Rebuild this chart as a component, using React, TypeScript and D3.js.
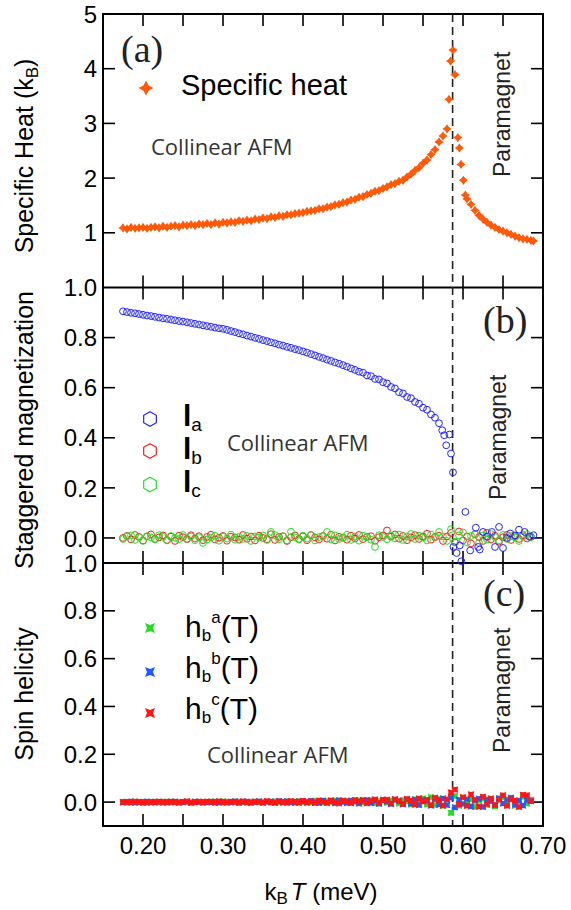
import React from 'react';
import * as d3 from 'd3';

// temperature grid (meV)
const temps = [
  0.175, 0.180, 0.185, 0.190, 0.195, 0.200, 0.205, 0.210, 0.215, 0.220,
  0.225, 0.230, 0.235, 0.240, 0.245, 0.250, 0.255, 0.260, 0.265, 0.270,
  0.275, 0.280, 0.285, 0.290, 0.295, 0.300, 0.305, 0.310, 0.315, 0.320,
  0.325, 0.330, 0.335, 0.340, 0.345, 0.350, 0.355, 0.360, 0.365, 0.370,
  0.375, 0.380, 0.385, 0.390, 0.395, 0.400, 0.405, 0.410, 0.415, 0.420,
  0.425, 0.430, 0.435, 0.440, 0.445, 0.450, 0.455, 0.460, 0.465, 0.470,
  0.475, 0.480, 0.485, 0.490, 0.495, 0.500, 0.505, 0.510, 0.515, 0.520,
  0.525, 0.530, 0.535, 0.540, 0.545, 0.550, 0.555, 0.560, 0.565, 0.570,
  0.575, 0.580, 0.585, 0.590, 0.595, 0.600, 0.605, 0.610, 0.615, 0.620,
  0.625, 0.630, 0.635, 0.640, 0.645, 0.650, 0.655, 0.660, 0.665, 0.670,
  0.675, 0.680, 0.685,
];

// (a) specific heat (k_B) on the grid, null where the peak points take over
const heat = [
  1.09, 1.07, 1.10, 1.08, 1.09, 1.10, 1.08, 1.10, 1.11, 1.09,
  1.12, 1.10, 1.12, 1.13, 1.11, 1.14, 1.13, 1.15, 1.13, 1.16,
  1.15, 1.17, 1.15, 1.18, 1.16, 1.19, 1.18, 1.20, 1.19, 1.22,
  1.21, 1.23, 1.22, 1.25, 1.24, 1.27, 1.26, 1.29, 1.28, 1.31,
  1.30, 1.33, 1.33, 1.35, 1.36, 1.37, 1.39, 1.40, 1.41, 1.44,
  1.44, 1.47, 1.48, 1.51, 1.52, 1.55, 1.56, 1.60, 1.61, 1.65,
  1.66, 1.70, 1.72, 1.76, 1.77, 1.81, 1.84, 1.88, 1.90, 1.94,
  1.96, 2.02, 2.07, 2.14, 2.19, 2.27, 2.33, 2.43, 2.52, 2.66,
  2.77, 2.90, null, null, null, null, 1.62, 1.52, 1.41, 1.32,
  1.25, 1.19, 1.14, 1.10, 1.06, 1.03, 1.00, 0.97, 0.94, 0.91,
  0.89, 0.88, 0.86,
];
const heatPeakT = [0.5825, 0.5845, 0.5875, 0.590, 0.5935, 0.5955, 0.5975, 0.6005, 0.603, 0.688];
const heatPeakC = [3.44, 4.14, 4.34, 3.89, 2.74, 2.55, 2.25, 1.96, 1.69, 0.85];

// (b) staggered magnetization
const lA = [
  0.905, 0.902, 0.899, 0.897, 0.894, 0.891, 0.888, 0.886, 0.883, 0.880,
  0.877, 0.875, 0.872, 0.869, 0.866, 0.864, 0.861, 0.858, 0.855, 0.852,
  0.849, 0.846, 0.843, 0.840, 0.837, 0.835, 0.831, 0.826, 0.822, 0.817,
  0.813, 0.808, 0.804, 0.799, 0.795, 0.790, 0.786, 0.781, 0.777, 0.772,
  0.768, 0.763, 0.759, 0.754, 0.750, 0.745, 0.740, 0.734, 0.729, 0.723,
  0.718, 0.712, 0.707, 0.701, 0.696, 0.690, 0.684, 0.677, 0.671, 0.664,
  0.660, 0.649, 0.646, 0.635, 0.633, 0.622, 0.617, 0.603, 0.597, 0.582,
  0.577, 0.563, 0.558, 0.543, 0.536, 0.520, 0.512, 0.493, 0.480, 0.458,
  null, null, null, null, null, null, null, null, null, null,
  null, null, null, null, null, null, null, null, null, null,
  null, null, null,
];
const lAExtraT = [
  0.574, 0.5765, 0.579, 0.583, 0.585, 0.5875, 0.588, 0.592, 0.596, 0.598,
  0.603, 0.609, 0.616, 0.619, 0.621, 0.625, 0.630, 0.636, 0.640, 0.645,
  0.650, 0.655, 0.659, 0.665, 0.670, 0.677, 0.683, 0.688,
];
const lAExtraV = [
  0.43, 0.41, 0.37, 0.413, 0.337, 0.262, -0.036, -0.06, -0.03, -0.093,
  0.104, -0.05, 0.041, -0.036, -0.046, 0.024, 0.005, 0.024, -0.036, 0.044,
  -0.04, 0.0, 0.018, 0.01, 0.033, 0.024, 0.005, 0.011,
];
const lB = [
  0.000, 0.008, -0.006, 0.012, 0.004, -0.010, 0.006, 0.014, -0.004, 0.002,
  0.010, -0.008, 0.005, -0.012, 0.009, 0.003, -0.005, 0.011, -0.002, 0.007,
  -0.009, 0.004, 0.013, -0.006, 0.001, 0.008, -0.011, 0.005, 0.002, -0.007,
  0.012, -0.003, 0.006, -0.010, 0.009, 0.000, -0.005, 0.015, -0.008, 0.004,
  0.007, -0.012, 0.003, 0.010, -0.004, 0.006, -0.009, 0.011, 0.002, -0.006,
  0.008, -0.003, 0.013, -0.010, 0.005, 0.001, -0.007, 0.009, -0.002, 0.012,
  -0.005, 0.004, 0.007, -0.011, 0.003, 0.010, 0.030, 0.005, 0.014, -0.003,
  0.008, -0.009, 0.002, 0.011, -0.004, 0.006, 0.017, -0.007, 0.003, 0.009,
  -0.012, 0.006, 0.020, -0.018, 0.026, -0.010, 0.006, -0.022, 0.015, 0.004,
  -0.012, 0.020, -0.006, 0.009, -0.015, 0.003, 0.012, -0.008, 0.007, -0.004,
  0.011, -0.002, 0.005,
];
const lC = [
  -0.004, 0.006, 0.010, -0.008, 0.003, -0.012, 0.007, 0.002, -0.006, 0.011,
  0.004, -0.010, 0.008, 0.001, -0.005, 0.012, -0.003, 0.006, -0.009, 0.003,
  -0.020, -0.006, 0.002, 0.009, -0.011, 0.005, -0.002, 0.013, -0.007, 0.004,
  -0.004, 0.008, -0.012, 0.006, 0.002, 0.010, -0.008, 0.024, 0.011, -0.005,
  0.006, -0.009, 0.025, 0.002, -0.006, 0.009, -0.003, 0.012, -0.010, 0.004,
  0.007, 0.024, -0.006, 0.010, -0.004, 0.002, 0.013, -0.008, 0.005, -0.011,
  0.009, 0.003, -0.007, -0.036, 0.011, 0.004, -0.005, 0.010, -0.002, 0.014,
  -0.008, 0.006, 0.016, -0.004, 0.009, 0.002, -0.010, 0.013, 0.005, 0.024,
  0.006, -0.012, 0.035, -0.015, 0.010, 0.022, -0.018, 0.008, 0.014, -0.020,
  0.010, -0.006, 0.015, 0.004, -0.010, 0.012, -0.004, 0.008, 0.002, -0.012,
  0.006, 0.015, 0.003,
];

// (c) spin helicity
const hA = [
  0.001, -0.002, 0.000, 0.002, -0.001, 0.001, -0.003, 0.000, 0.002, -0.001,
  0.000, 0.002, -0.002, 0.001, 0.000, -0.001, 0.002, -0.003, 0.001, 0.000,
  -0.002, 0.001, 0.002, -0.001, 0.000, 0.003, -0.002, 0.001, -0.001, 0.002,
  0.000, -0.003, 0.001, 0.002, -0.001, 0.000, 0.002, -0.002, 0.003, -0.001,
  0.001, 0.003, -0.002, 0.000, 0.004, -0.001, 0.002, -0.003, 0.005, 0.001,
  -0.002, 0.004, 0.000, 0.006, -0.003, 0.002, 0.005, -0.004, 0.003, 0.007,
  -0.002, 0.005, 0.008, -0.005, 0.004, 0.009, -0.003, 0.006, 0.010, -0.006,
  0.008, 0.003, -0.010, 0.012, -0.004, 0.015, -0.009, 0.020, -0.012, 0.014,
  -0.015, 0.010, -0.045, 0.025, -0.015, 0.018, -0.010, 0.012, -0.020, 0.008,
  0.015, -0.012, 0.006, -0.018, 0.010, 0.020, -0.008, 0.012, -0.015, 0.005,
  0.022, -0.006, 0.010,
];
const hB = [
  -0.001, 0.001, 0.002, -0.002, 0.000, 0.001, 0.002, -0.001, 0.000, 0.001,
  -0.002, 0.000, 0.001, 0.002, -0.001, 0.000, 0.001, -0.002, 0.002, 0.000,
  0.001, -0.001, 0.000, 0.002, -0.002, 0.001, 0.000, -0.001, 0.003, -0.002,
  0.001, 0.002, -0.002, 0.000, 0.003, -0.001, 0.001, 0.002, -0.003, 0.004,
  -0.002, 0.003, 0.000, -0.003, 0.002, 0.004, -0.002, 0.005, -0.001, -0.004,
  0.006, -0.002, 0.003, -0.005, 0.007, 0.001, -0.004, 0.006, 0.002, -0.006,
  0.005, 0.008, -0.004, 0.006, -0.007, 0.010, 0.002, -0.008, 0.009, 0.004,
  -0.009, 0.012, -0.006, 0.010, -0.012, 0.008, 0.006, -0.014, 0.012, -0.010,
  0.015, -0.012, 0.018, -0.022, 0.010, -0.008, 0.012, -0.018, 0.006, 0.014,
  -0.020, 0.010, 0.004, -0.012, 0.016, -0.006, 0.010, 0.018, -0.010, 0.006,
  -0.014, 0.008, 0.004,
];
const hC = [
  0.000, 0.001, -0.001, 0.002, 0.001, -0.002, 0.000, 0.001, -0.001, 0.002,
  0.001, -0.001, 0.002, 0.000, -0.002, 0.001, 0.003, -0.001, 0.000, 0.002,
  -0.001, 0.002, 0.001, -0.002, 0.003, 0.000, -0.001, 0.002, 0.001, -0.002,
  0.003, 0.000, -0.002, 0.002, 0.001, -0.003, 0.004, 0.000, -0.002, 0.003,
  0.001, -0.002, 0.004, 0.002, -0.003, 0.005, 0.000, 0.003, -0.004, 0.006,
  0.002, -0.003, 0.007, 0.001, -0.005, 0.006, 0.003, -0.004, 0.008, 0.002,
  0.009, -0.005, 0.004, 0.011, -0.003, 0.008, 0.010, -0.006, 0.012, 0.004,
  -0.008, 0.013, 0.006, -0.010, 0.015, 0.002, 0.010, -0.012, 0.018, 0.008,
  -0.014, 0.012, 0.040, 0.052, -0.010, 0.020, -0.015, 0.032, 0.010, -0.018,
  0.022, -0.008, 0.015, -0.012, 0.010, 0.028, -0.015, 0.012, 0.006, -0.020,
  0.030, 0.028, 0.004,
];

const xTicks = [0.2, 0.25, 0.3, 0.35, 0.4, 0.45, 0.5, 0.55, 0.6, 0.65];
const xLabels = [0.2, 0.3, 0.4, 0.5, 0.6, 0.7];
const heatTicks = [1, 2, 3, 4];
const heatLabels = [1, 2, 3, 4, 5];
const magTicks = [0, 0.2, 0.4, 0.6, 0.8];
const magLabels = [0, 0.2, 0.4, 0.6, 0.8, 1.0];
const tc = 0.587;

const ORANGE = '#ff5a0a';
const BLUE = '#2222ff';
const RED = '#ff1a1a';
const GREEN = '#22e022';
const H_GREEN = '#22dd22';
const H_BLUE = '#1f5cff';
const H_RED = '#ff1515';

const SANS = '"Liberation Sans", Arial, Helvetica, sans-serif';
const MYRIAD = '"Open Sans", "Noto Sans", sans-serif';
const SERIF = '"Liberation Serif", "Times New Roman", serif';

const x = d3.scaleLinear().domain([0.15, 0.7]).range([103, 543]);
const yA = d3.scaleLinear().domain([0, 5]).range([287.5, 14]);
const yB = d3.scaleLinear().domain([-0.1, 1.0]).range([563, 287.5]);
const yC = d3.scaleLinear().domain([-0.1, 1.0]).range([826, 563]);

const zip = (ts: number[], vs: (number | null)[]) =>
  ts.map((t, i) => [t, vs[i]] as [number, number | null]).filter((d) => d[1] != null) as [number, number][];

// four-point star
const star = (s: number, f = 0.3) => {
  const k = s * f;
  return `M0,${-s}L${k},${-k}L${s},0L${k},${k}L0,${s}L${-k},${k}L${-s},0L${-k},${-k}Z`;
};
// square with pinched sides
const pinched = (s: number, f = 0.6) => {
  const k = s * f;
  return `M${-s},${-s}L0,${-k}L${s},${-s}L${k},0L${s},${s}L0,${k}L${-s},${s}L${-k},0Z`;
};
const hexagon = (r: number) =>
  d3.range(6).map((i) => {
    const a = (Math.PI / 3) * i - Math.PI / 2;
    return `${i ? 'L' : 'M'}${r * Math.cos(a)},${r * Math.sin(a)}`;
  }).join('') + 'Z';

const fmt1 = d3.format('.1f');
const fmt2 = d3.format('.2f');

export default function App() {
  const heatPts = [...zip(temps, heat), ...zip(heatPeakT, heatPeakC)];
  const laPts = [...zip(temps, lA), ...zip(lAExtraT, lAExtraV)];
  const L = 103, R = 543;
  const edges = [
    { y: 14, dir: 1 },
    { y: 287.5, dir: -1 },
    { y: 287.5, dir: 1 },
    { y: 563, dir: -1 },
    { y: 563, dir: 1 },
    { y: 826, dir: -1 },
  ];
  const yTickMarks = [
    ...heatTicks.map((v) => yA(v)),
    ...magTicks.map((v) => yB(v)),
    ...magTicks.map((v) => yC(v)),
  ];
  const tickLabel = { fontFamily: SANS, fontSize: 24, fill: '#000' };

  return (
    <div style={{ position: 'absolute', left: 0, top: 0, background: '#fff' }}>
      <svg width={571} height={910} style={{ display: 'block' }}>
        <rect width={571} height={910} fill="#fff" />

        {/* frame */}
        <g stroke="#000" strokeWidth={2} fill="none">
          <rect x={L} y={14} width={R - L} height={826 - 14} />
          <line x1={L} x2={R} y1={287.5} y2={287.5} />
          <line x1={L} x2={R} y1={563} y2={563} />
        </g>

        {/* ticks */}
        <g stroke="#000" strokeWidth={1.6}>
          {edges.map((e, i) =>
            xTicks.map((t) => (
              <line key={`x${i}-${t}`} x1={x(t)} x2={x(t)} y1={e.y} y2={e.y + 12 * e.dir} />
            ))
          )}
          {yTickMarks.map((yy, i) => (
            <g key={`y${i}`}>
              <line x1={L} x2={L + 12} y1={yy} y2={yy} />
              <line x1={R} x2={R - 12} y1={yy} y2={yy} />
            </g>
          ))}
        </g>

        {/* tick labels */}
        <g {...tickLabel} textAnchor="end">
          {heatLabels.map((v) => (
            <text key={`ha${v}`} x={97} y={yA(v)} dy="0.36em">{v}</text>
          ))}
          {magLabels.map((v) => (
            <text key={`mb${v}`} x={97} y={yB(v)} dy="0.36em">{fmt1(v)}</text>
          ))}
          {magLabels.map((v) => (
            <text key={`mc${v}`} x={97} y={yC(v)} dy="0.36em">{fmt1(v)}</text>
          ))}
        </g>
        <g {...tickLabel} textAnchor="middle">
          {xLabels.map((v) => (
            <text key={`xl${v}`} x={x(v)} y={854}>{fmt2(v)}</text>
          ))}
        </g>

        {/* axis titles */}
        <g fontFamily={SANS} fontSize={25} fill="#000" textAnchor="middle">
          <text transform="translate(33,156) rotate(-90)">
            Specific Heat (k<tspan fontSize={17} dy={5}>B</tspan><tspan dy={-5}>)</tspan>
          </text>
          <text transform="translate(33,430) rotate(-90)">Staggered magnetization</text>
          <text transform="translate(33,694) rotate(-90)">Spin helicity</text>
        </g>
        <text x={321} y={900} fontFamily={SANS} fontSize={24} textAnchor="middle">
          k<tspan fontSize={17} dy={4}>B</tspan>
          <tspan dy={-4} dx={3} fontStyle="italic">T</tspan> (meV)
        </text>

        {/* transition line */}
        <line x1={x(tc)} x2={x(tc)} y1={14} y2={826} stroke="#222" strokeWidth={1.6} strokeDasharray="8,5" />

        {/* (a) specific heat */}
        <g fill={ORANGE}>
          {heatPts.map(([t, v], i) => (
            <path key={`h${i}`} d={star(4.6, 0.42)} transform={`translate(${x(t)},${yA(v)})`} />
          ))}
        </g>

        {/* (b) staggered magnetization */}
        <g fill="none" strokeWidth={1}>
          {zip(temps, lB).map(([t, v], i) => (
            <circle key={`lb${i}`} cx={x(t)} cy={yB(v)} r={3.4} stroke={RED} />
          ))}
          {zip(temps, lC).map(([t, v], i) => (
            <circle key={`lc${i}`} cx={x(t)} cy={yB(v)} r={3.4} stroke={GREEN} />
          ))}
          {laPts.map(([t, v], i) => (
            <circle key={`la${i}`} cx={x(t)} cy={yB(v)} r={3.4} stroke={BLUE} />
          ))}
        </g>

        {/* (c) spin helicity */}
        <g>
          {zip(temps, hA).map(([t, v], i) => (
            <path key={`ca${i}`} d={pinched(3.2, 0.8)} fill={H_GREEN} transform={`translate(${x(t)},${yC(v)})`} />
          ))}
          {zip(temps, hB).map(([t, v], i) => (
            <path key={`cb${i}`} d={pinched(3.2, 0.8)} fill={H_BLUE} transform={`translate(${x(t)},${yC(v)})`} />
          ))}
          {zip(temps, hC).map(([t, v], i) => (
            <path key={`cc${i}`} d={pinched(3.2, 0.8)} fill={H_RED} transform={`translate(${x(t)},${yC(v)})`} />
          ))}
        </g>

        {/* panel letters */}
        <g fontFamily={SERIF} fontSize={38} fill="#222">
          <text x={121} y={62}>(a)</text>
          <text x={483} y={333}>(b)</text>
          <text x={483} y={606}>(c)</text>
        </g>

        {/* phase labels */}
        <g fontFamily={MYRIAD} fontSize={22} fill="#333">
          <text x={151} y={155}>Collinear AFM</text>
          <text x={227} y={451}>Collinear AFM</text>
          <text x={207} y={763}>Collinear AFM</text>
        </g>
        <g fontFamily={SANS} fontSize={23} fill="#222">
          <text transform="translate(510,177) rotate(-90)">Paramagnet</text>
          <text transform="translate(506,500) rotate(-90)">Paramagnet</text>
          <text transform="translate(510,753) rotate(-90)">Paramagnet</text>
        </g>

        {/* legend (a) */}
        <path d={star(7.5, 0.35)} fill={ORANGE} transform="translate(146,88)" />
        <text x={181} y={95} fontFamily={SANS} fontSize={29}>Specific heat</text>

        {/* legend (b) */}
        {[
          { c: BLUE, s: 'a', y: 419, b: 426 },
          { c: RED, s: 'b', y: 451, b: 459 },
          { c: GREEN, s: 'c', y: 484.5, b: 492 },
        ].map((d) => (
          <g key={d.s}>
            <path d={hexagon(7.3)} fill="none" stroke={d.c} strokeWidth={1.2} transform={`translate(150,${d.y})`} />
            <text x={183} y={d.b} fontFamily={SANS} fontSize={30} fontWeight="bold">
              l<tspan fontSize={19} fontWeight="normal" dy={4.5}>{d.s}</tspan>
            </text>
          </g>
        ))}

        {/* legend (c) */}
        {[
          { c: H_GREEN, s: 'a', y: 628, b: 637 },
          { c: H_BLUE, s: 'b', y: 672, b: 678 },
          { c: H_RED, s: 'c', y: 713, b: 718.5 },
        ].map((d) => (
          <g key={d.s}>
            <path d={pinched(5)} fill={d.c} transform={`translate(150,${d.y})`} />
            <text x={185} y={d.b} fontFamily={SANS} fontSize={30}>
              h<tspan fontSize={17} dy={4}>b</tspan>
              <tspan fontSize={17} dy={-18}>{d.s}</tspan>
              <tspan dy={14}>(T)</tspan>
            </text>
          </g>
        ))}
      </svg>
    </div>
  );
}
